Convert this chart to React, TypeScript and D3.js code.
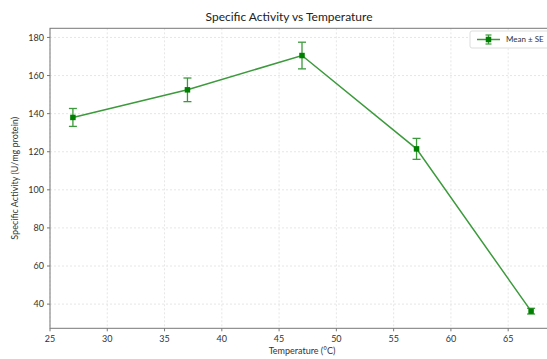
import React from "react";
import * as d3 from "d3";

const temperatures = [27, 37, 47, 57, 67];
const activityMean = [138, 152.5, 170.5, 121.5, 36.3];
const activitySE = [4.7, 6.2, 7, 5.5, 1.5];
const xTicks = [25, 30, 35, 40, 45, 50, 55, 60, 65];
const yTicks = [40, 60, 80, 100, 120, 140, 160, 180];

const FONT = "Lato, 'Open Sans', sans-serif";
const GREEN = "#008000";
const LINE_GREEN = "#3c9a3c";

const App = () => {
  const width = 547,
    height = 359;
  const left = 50,
    right = 554,
    top = 28.3,
    bottom = 328.3;

  const xScale = d3.scaleLinear().domain([25, 69]).range([left, right]);
  const yScale = d3.scaleLinear().domain([27.3, 184.8]).range([bottom, top]);

  const line = d3
    .line<number>()
    .x((d, i) => xScale(temperatures[i]))
    .y((d) => yScale(d));

  return (
    <svg
      width={width}
      height={height}
      style={{ position: "absolute", left: 0, top: 0, background: "#fff" }}
      fontFamily={FONT}
    >
      <rect x={0} y={0} width={width} height={height} fill="#fff" />
      {/* grid */}
      {xTicks.map((t) => (
        <line
          key={"gx" + t}
          x1={xScale(t)}
          x2={xScale(t)}
          y1={top}
          y2={bottom}
          stroke="#e0e0e0"
          strokeDasharray="2,2"
          strokeWidth={0.8}
        />
      ))}
      {yTicks.map((t) => (
        <line
          key={"gy" + t}
          x1={left}
          x2={right}
          y1={yScale(t)}
          y2={yScale(t)}
          stroke="#e0e0e0"
          strokeDasharray="2,2"
          strokeWidth={0.8}
        />
      ))}
      {/* spines */}
      <rect
        x={left}
        y={top}
        width={right - left}
        height={bottom - top}
        fill="none"
        stroke="#777"
        strokeWidth={1}
      />
      {/* ticks */}
      {xTicks.map((t) => (
        <g key={"tx" + t}>
          <line x1={xScale(t)} x2={xScale(t)} y1={bottom} y2={bottom + 3} stroke="#777" />
          <text x={xScale(t)} y={bottom + 14} fontSize={9} fill="#333" textAnchor="middle">
            {t}
          </text>
        </g>
      ))}
      {yTicks.map((t) => (
        <g key={"ty" + t}>
          <line x1={left - 3} x2={left} y1={yScale(t)} y2={yScale(t)} stroke="#777" />
          <text
            x={left - 6}
            y={yScale(t)}
            dy="0.35em"
            fontSize={9}
            fill="#333"
            textAnchor="end"
          >
            {t}
          </text>
        </g>
      ))}
      {/* line */}
      <path d={line(activityMean) || ""} fill="none" stroke={LINE_GREEN} strokeWidth={1.5} />
      {/* error bars */}
      {activityMean.map((m, i) => {
        const x = xScale(temperatures[i]);
        const y1 = yScale(m - activitySE[i]);
        const y2 = yScale(m + activitySE[i]);
        return (
          <g key={"e" + i} stroke={LINE_GREEN} strokeWidth={1.3}>
            <line x1={x} x2={x} y1={y1} y2={y2} />
            <line x1={x - 4} x2={x + 4} y1={y1} y2={y1} />
            <line x1={x - 4} x2={x + 4} y1={y2} y2={y2} />
          </g>
        );
      })}
      {activityMean.map((m, i) => (
        <rect
          key={"m" + i}
          x={xScale(temperatures[i]) - 2.75}
          y={yScale(m) - 2.75}
          width={5.5}
          height={5.5}
          fill={GREEN}
        />
      ))}
      {/* legend */}
      <rect x={470} y={31} width={90} height={17} fill="#fff" stroke="#ddd" rx={2} />
      <line x1={477} x2={500} y1={39.5} y2={39.5} stroke={LINE_GREEN} strokeWidth={1.5} />
      <line x1={488.5} x2={488.5} y1={35} y2={44} stroke={LINE_GREEN} strokeWidth={1.2} />
      <line x1={485.5} x2={491.5} y1={35} y2={35} stroke={LINE_GREEN} strokeWidth={1.2} />
      <line x1={485.5} x2={491.5} y1={44} y2={44} stroke={LINE_GREEN} strokeWidth={1.2} />
      <rect x={485.75} y={36.75} width={5.5} height={5.5} fill={GREEN} />
      <text x={506} y={39.5} dy="0.35em" fontSize={8} fill="#333">
        Mean ± SE
      </text>
      {/* titles */}
      <text x={289} y={21} fontSize={12} fill="#222" textAnchor="middle">
        Specific Activity vs Temperature
      </text>
      <text x={302} y={354} fontSize={9} fill="#333" textAnchor="middle">
        Temperature (°C)
      </text>
      <text
        transform={`translate(15,${(top + bottom) / 2}) rotate(-90)`}
        fontSize={9}
        fill="#333"
        textAnchor="middle"
        dy="0.35em"
      >
        Specific Activity (U/mg protein)
      </text>
    </svg>
  );
};

export default App;
